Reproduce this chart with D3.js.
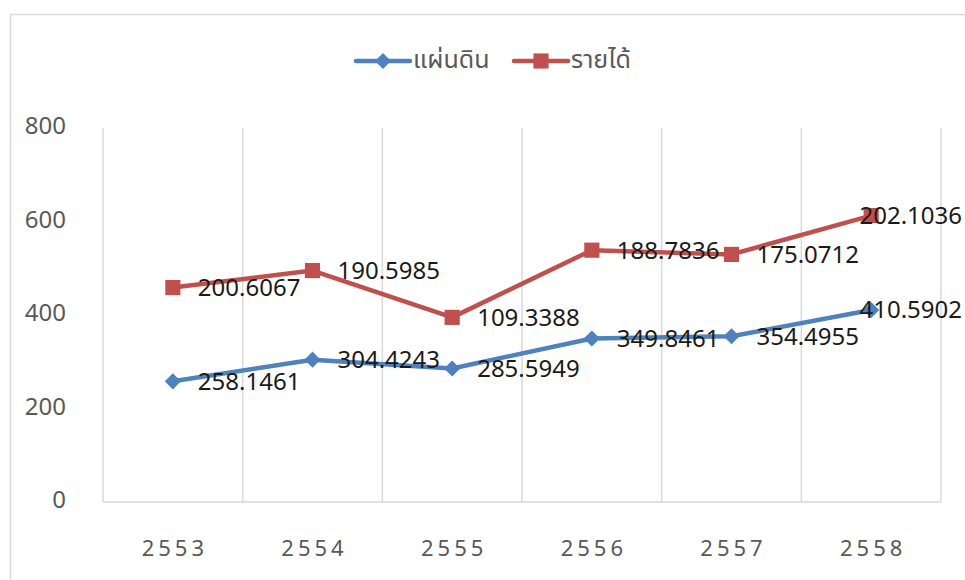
<!DOCTYPE html>
<html>
<head>
<meta charset="utf-8">
<script src="https://cdn.jsdelivr.net/npm/d3@7"></script>
<style>
  html, body { margin: 0; padding: 0; background: #fff; }
  svg { display: block; }
  text { font-family: "Noto Sans Thai", "Leelawadee UI", "Noto Sans", "DejaVu Sans", sans-serif; }
</style>
</head>
<body>
<svg id="chart" width="965" height="580"></svg>
<script>
// Categories (Buddhist-era years)
const years = ["2553", "2554", "2555", "2556", "2557", "2558"];
// Series values
const landValues = [258.1461, 304.4243, 285.5949, 349.8461, 354.4955, 410.5902];
const incomeValues = [200.6067, 190.5985, 109.3388, 188.7836, 175.0712, 202.1036];
// Series names
const seriesNames = ["แผ่นดิน", "รายได้"];
// Value-axis ticks
const yTicks = [0, 200, 400, 600, 800];

const colors = ["#4F81BD", "#C0504D"];
const svg = d3.select("#chart");

// chart frame
svg.append("rect")
  .attr("x", 10.5).attr("y", 14.5)
  .attr("width", 1000).attr("height", 1000)
  .attr("fill", "#fff").attr("stroke", "#d9d9d9").attr("stroke-width", 1.5);

const plot = { left: 103, right: 941, top: 128, bottom: 502 };

const x = d3.scaleBand().domain(years).range([plot.left, plot.right]);
const y = d3.scaleLinear().domain([0, 800]).range([plot.bottom, plot.top]);

// stacked line layout: second series sits on top of the first
const stackData = years.map((yr, i) => ({ year: yr, land: landValues[i], income: incomeValues[i] }));
const stacked = d3.stack().keys(["land", "income"])(stackData);

// vertical gridlines at category boundaries
const bounds = years.map(d => x(d)).concat([plot.right]);
svg.append("g").selectAll("line").data(bounds).join("line")
  .attr("x1", d => d).attr("x2", d => d)
  .attr("y1", plot.top).attr("y2", plot.bottom)
  .attr("stroke", "#d9d9d9").attr("stroke-width", 1.5);

// horizontal axis line
svg.append("line")
  .attr("x1", plot.left).attr("x2", plot.right)
  .attr("y1", plot.bottom).attr("y2", plot.bottom)
  .attr("stroke", "#d9d9d9").attr("stroke-width", 1.5);

// y-axis labels
svg.append("g").selectAll("text").data(yTicks).join("text")
  .attr("x", 66).attr("y", d => y(d) - 2)
  .attr("dy", "0.35em")
  .attr("text-anchor", "end")
  .attr("fill", "#595959")
  .style("font-size", "24px")
  .text(d => d);

// x-axis labels
svg.append("g").selectAll("text").data(years).join("text")
  .attr("x", d => x(d) + x.bandwidth() / 2 + 2)
  .attr("y", 548)
  .attr("dy", "0.35em")
  .attr("text-anchor", "middle")
  .attr("fill", "#595959")
  .style("font-size", "22px")
  .style("letter-spacing", "4px")
  .text(d => d);

const cx = d => x(d.data.year) + x.bandwidth() / 2;
const line = d3.line().x(cx).y(d => y(d[1]));

const diamondPath = d3.symbol().type(d3.symbolSquare).size(130)();
const squarePath = d3.symbol().type(d3.symbolSquare).size(230)();

stacked.forEach((s, si) => {
  svg.append("path")
    .datum(s)
    .attr("d", line)
    .attr("fill", "none")
    .attr("stroke", colors[si])
    .attr("stroke-width", 4.5)
    .attr("stroke-linejoin", "round")
    .attr("stroke-linecap", "round");

  svg.append("g").selectAll("path").data(s).join("path")
    .attr("transform", d => `translate(${cx(d)},${y(d[1])})` + (si === 0 ? " rotate(45)" : ""))
    .attr("d", si === 0 ? diamondPath : squarePath)
    .attr("fill", colors[si]);
});

// data labels: each states the series' own value, placed right of its marker
const labelLayer = svg.append("g");
stacked.forEach((s, si) => {
  const vals = si === 0 ? landValues : incomeValues;
  labelLayer.selectAll(null).data(s).join("text")
    .attr("x", d => cx(d) + 25)
    .attr("y", d => y(d[1]))
    .attr("dy", "0.35em")
    .attr("fill", "#1a1a1a")
    .style("font-size", "24px")
    .text((d, i) => vals[i].toFixed(4))
    .each(function () {
      // keep labels inside the chart frame
      const bb = this.getBBox();
      const maxRight = 962;
      if (bb.x + bb.width > maxRight) {
        d3.select(this).attr("x", maxRight - bb.width);
      }
    });
});

// legend
const legend = svg.append("g");
const legendItems = [
  { name: seriesNames[0], color: colors[0], x0: 356, textX: 413, shape: "diamond" },
  { name: seriesNames[1], color: colors[1], x0: 514, textX: 571, shape: "square" }
];
legendItems.forEach(it => {
  legend.append("line")
    .attr("x1", it.x0).attr("x2", it.x0 + 54)
    .attr("y1", 61).attr("y2", 61)
    .attr("stroke", it.color).attr("stroke-width", 4.5).attr("stroke-linecap", "round");
  legend.append("path")
    .attr("transform", `translate(${it.x0 + 27},61)` + (it.shape === "diamond" ? " rotate(45)" : ""))
    .attr("d", it.shape === "diamond" ? diamondPath : squarePath)
    .attr("fill", it.color);
  legend.append("text")
    .attr("x", it.textX).attr("y", 59)
    .attr("dy", "0.35em")
    .attr("fill", "#595959")
    .style("font-size", "25px")
    .text(it.name);
});
</script>
</body>
</html>
